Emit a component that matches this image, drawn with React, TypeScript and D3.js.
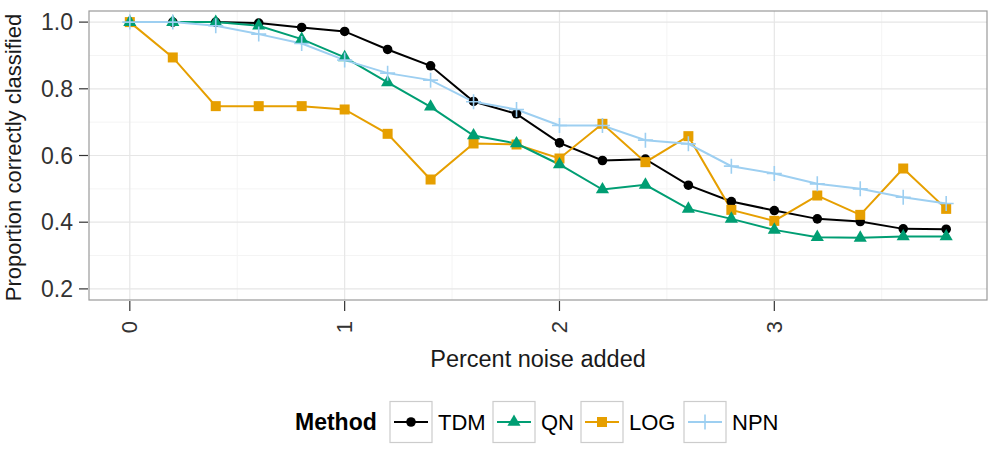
import { useEffect, useRef } from "react";
import * as d3 from "d3";

// noise levels (percent)
const noise = [0, 0.2, 0.4, 0.6, 0.8, 1.0, 1.2, 1.4, 1.6, 1.8, 2.0, 2.2, 2.4, 2.6, 2.8, 3.0, 3.2, 3.4, 3.6, 3.8];

const tdm = [1.0, 1.0, 1.0, 0.997, 0.984, 0.972, 0.918, 0.869, 0.762, 0.725, 0.638, 0.585, 0.589, 0.511, 0.462, 0.435, 0.41, 0.402, 0.38, 0.379];
const qn = [1.0, 1.0, 1.0, 0.989, 0.949, 0.894, 0.819, 0.746, 0.66, 0.636, 0.573, 0.498, 0.512, 0.44, 0.41, 0.377, 0.355, 0.353, 0.357, 0.357];
const logv = [1.0, 0.894, 0.748, 0.748, 0.748, 0.738, 0.665, 0.528, 0.636, 0.633, 0.591, 0.695, 0.58, 0.658, 0.437, 0.404, 0.48, 0.422, 0.561, 0.44];
const npn = [1.0, 1.0, 0.989, 0.964, 0.936, 0.886, 0.847, 0.826, 0.761, 0.738, 0.69, 0.69, 0.646, 0.635, 0.568, 0.546, 0.515, 0.5, 0.475, 0.456];

const methods = ["TDM", "QN", "LOG", "NPN"];
const colors = ["#000000", "#009E73", "#E69F00", "#9dcff1"];
const shapes = ["circle", "triangle", "square", "plus"];

const xTicks = [0, 1, 2, 3];
const yTicks = [0.2, 0.4, 0.6, 0.8, 1.0];

const FONT = "'Liberation Sans', Arial, Helvetica, sans-serif";

const App = () => {
  const svgRef = useRef<SVGSVGElement>(null);

  useEffect(() => {
    document.body.style.margin = "0";
    if (!svgRef.current) return;
    const svg = d3.select(svgRef.current);
    svg.selectAll("*").remove();

    const width = 1000;
    const height = 450;
    svg.attr("width", width).attr("height", height).style("background", "#fff");

    const panel = { left: 89, top: 11, right: 987, bottom: 300 };

    // ggplot-like expanded domains
    const x = d3.scaleLinear().domain([-0.19, 3.99]).range([panel.left, panel.right]);
    const y = d3.scaleLinear().domain([0.1667, 1.0333]).range([panel.bottom, panel.top]);

    const g = svg.append("g");

    // minor grid
    const xMinor = [0.5, 1.5, 2.5, 3.5];
    const yMinor = [0.3, 0.5, 0.7, 0.9];
    g.selectAll(".xminor").data(xMinor).enter().append("line")
      .attr("x1", (d) => x(d)).attr("x2", (d) => x(d))
      .attr("y1", panel.top).attr("y2", panel.bottom)
      .attr("stroke", "#f4f4f4").attr("stroke-width", 1);
    g.selectAll(".yminor").data(yMinor).enter().append("line")
      .attr("x1", panel.left).attr("x2", panel.right)
      .attr("y1", (d) => y(d)).attr("y2", (d) => y(d))
      .attr("stroke", "#f4f4f4").attr("stroke-width", 1);

    // major grid
    g.selectAll(".xmajor").data(xTicks).enter().append("line")
      .attr("x1", (d) => x(d)).attr("x2", (d) => x(d))
      .attr("y1", panel.top).attr("y2", panel.bottom)
      .attr("stroke", "#e6e6e6").attr("stroke-width", 1.2);
    g.selectAll(".ymajor").data(yTicks).enter().append("line")
      .attr("x1", panel.left).attr("x2", panel.right)
      .attr("y1", (d) => y(d)).attr("y2", (d) => y(d))
      .attr("stroke", "#e6e6e6").attr("stroke-width", 1.2);

    // series
    const allValues = [tdm, qn, logv, npn];
    const line = d3.line<number>().x((_, i) => x(noise[i])).y((d) => y(d));

    const drawShape = (sel: any, shape: string, color: string, cx: number, cy: number) => {
      if (shape === "circle") {
        sel.append("circle").attr("cx", cx).attr("cy", cy).attr("r", 4.8).attr("fill", color);
      } else if (shape === "square") {
        sel.append("rect").attr("x", cx - 5).attr("y", cy - 5).attr("width", 10).attr("height", 10).attr("fill", color);
      } else if (shape === "triangle") {
        const s = d3.symbol().type(d3.symbolTriangle).size(75)();
        sel.append("path").attr("d", s).attr("transform", `translate(${cx},${cy})`).attr("fill", color);
      } else {
        sel.append("path")
          .attr("d", `M${cx - 7.5},${cy}H${cx + 7.5}M${cx},${cy - 7.5}V${cy + 7.5}`)
          .attr("stroke", color).attr("stroke-width", 1.6).attr("fill", "none");
      }
    };

    const order = [0, 2, 1, 3];
    order.forEach((k) => {
      g.append("path")
        .datum(allValues[k])
        .attr("d", line)
        .attr("fill", "none")
        .attr("stroke", colors[k])
        .attr("stroke-width", 2);
    });
    order.forEach((k) => {
      const pg = g.append("g");
      allValues[k].forEach((v, i) => drawShape(pg, shapes[k], colors[k], x(noise[i]), y(v)));
    });

    // panel border
    g.append("rect")
      .attr("x", panel.left).attr("y", panel.top)
      .attr("width", panel.right - panel.left).attr("height", panel.bottom - panel.top)
      .attr("fill", "none").attr("stroke", "#9a9a9a").attr("stroke-width", 1.2);

    // y axis
    const yAxis = g.append("g");
    yTicks.forEach((t) => {
      yAxis.append("line").attr("x1", panel.left - 10).attr("x2", panel.left - 1)
        .attr("y1", y(t)).attr("y2", y(t)).attr("stroke", "#333").attr("stroke-width", 1.2);
      yAxis.append("text").attr("x", panel.left - 16).attr("y", y(t))
        .attr("text-anchor", "end").attr("dominant-baseline", "central")
        .attr("font-family", FONT).attr("font-size", 23).attr("fill", "#333")
        .text(d3.format(".1f")(t));
    });

    // x axis
    const xAxis = g.append("g");
    xTicks.forEach((t) => {
      xAxis.append("line").attr("x1", x(t)).attr("x2", x(t))
        .attr("y1", panel.bottom + 1).attr("y2", panel.bottom + 11).attr("stroke", "#333").attr("stroke-width", 1.2);
      xAxis.append("text")
        .attr("transform", `translate(${x(t)},${panel.bottom + 21}) rotate(-90)`)
        .attr("text-anchor", "end").attr("dominant-baseline", "central")
        .attr("font-family", FONT).attr("font-size", 22).attr("fill", "#333")
        .text(String(t));
    });

    // axis titles
    svg.append("text")
      .attr("x", (panel.left + panel.right) / 2).attr("y", 367)
      .attr("text-anchor", "middle")
      .attr("font-family", FONT).attr("font-size", 23.5).attr("fill", "#1a1a1a")
      .text("Percent noise added");
    svg.append("text")
      .attr("transform", `translate(21,${(panel.top + panel.bottom) / 2 + 2}) rotate(-90)`)
      .attr("text-anchor", "middle")
      .attr("font-family", FONT).attr("font-size", 22).attr("fill", "#1a1a1a")
      .text("Proportion correctly classified");

    // legend
    const leg = svg.append("g");
    const legY = 422;
    leg.append("text").attr("x", 295).attr("y", legY)
      .attr("dominant-baseline", "central")
      .attr("font-family", FONT).attr("font-size", 23).attr("font-weight", 700).attr("fill", "#000")
      .text("Method");
    const keyX = [390, 493, 581, 684];
    methods.forEach((m, k) => {
      const kx = keyX[k];
      leg.append("rect").attr("x", kx).attr("y", legY - 20.5).attr("width", 42).attr("height", 41)
        .attr("fill", "#ffffff").attr("stroke", "#cccccc").attr("stroke-width", 1.2);
      leg.append("line").attr("x1", kx + 4).attr("x2", kx + 38).attr("y1", legY).attr("y2", legY)
        .attr("stroke", colors[k]).attr("stroke-width", 2);
      drawShape(leg, shapes[k], colors[k], kx + 21, legY);
      leg.append("text").attr("x", kx + 48).attr("y", legY)
        .attr("dominant-baseline", "central")
        .attr("font-family", FONT).attr("font-size", 22).attr("fill", "#000")
        .text(m);
    });
  }, []);

  return <svg ref={svgRef} style={{ display: "block" }} />;
};

export default App;
